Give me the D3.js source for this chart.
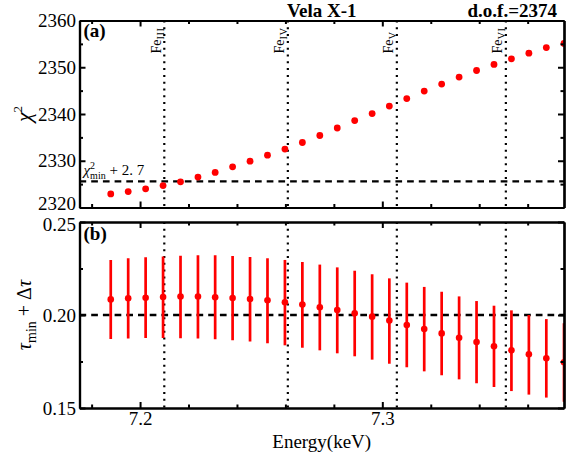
<!DOCTYPE html>
<html><head><meta charset="utf-8">
<script src="https://cdn.jsdelivr.net/npm/d3@7"></script>
<style>
body{margin:0;background:#fff}
svg text{font-family:"Liberation Serif","Times New Roman",serif;fill:#000}
</style>
</head><body><svg id="c" width="575" height="460"></svg>
<script>
// ---- data ----
const energy=[7.1879,7.1951,7.2023,7.2095,7.2167,7.2239,7.2310,7.2382,7.2454,7.2526,7.2598,7.2670,7.2742,7.2814,7.2886,7.2958,7.3029,7.3101,7.3173,7.3245,7.3317,7.3389,7.3461,7.3533,7.3605,7.3677,7.3750];
const chi2=[2322.9,2323.4,2324.0,2324.7,2325.5,2326.5,2327.5,2328.7,2329.9,2331.2,2332.5,2333.9,2335.4,2337.0,2338.6,2340.1,2341.7,2343.3,2344.9,2346.4,2347.9,2349.3,2350.6,2351.8,2353.0,2354.2,2355.1];
const tau=[0.2084,0.2090,0.2093,0.2097,0.2099,0.2099,0.2095,0.2091,0.2086,0.2079,0.2068,0.2056,0.2041,0.2027,0.2009,0.1991,0.1970,0.1946,0.1925,0.1901,0.1878,0.1855,0.1832,0.1810,0.1789,0.1767,0.1746];
const tauHi=[0.2296,0.2305,0.2310,0.2315,0.2319,0.2321,0.2321,0.2317,0.2312,0.2305,0.2296,0.2285,0.2271,0.2256,0.2238,0.2219,0.2197,0.2174,0.2151,0.2125,0.2100,0.2075,0.2050,0.2025,0.2000,0.1978,0.1955];
const tauLo=[0.1871,0.1873,0.1876,0.1876,0.1875,0.1873,0.1869,0.1864,0.1857,0.1848,0.1837,0.1824,0.1810,0.1794,0.1778,0.1760,0.1738,0.1719,0.1697,0.1676,0.1654,0.1633,0.1613,0.1591,0.1572,0.1556,0.1534];
const feIons=["III","IV","V","VI"];
const feEnergy=[7.210,7.261,7.306,7.351];
const xMajor=[7.2,7.3];
const xMinor=[7.18,7.22,7.24,7.26,7.28,7.32,7.34,7.36];
const yTopMajor=[2320,2330,2340,2350,2360];
const yTopMinor=[2325,2335,2345,2355];
const yBotMajor=[0.15,0.20,0.25];
const yBotMinor=[0.175,0.225];
const deltaChi=2.7;
const tauRef=0.20;
const title="Vela X-1";
const dofText="d.o.f.=2374";

// ---- layout ----
const L=79.5,R=564,T1=20.5,B1=207.5,T2=222,B2=408;
const svg=d3.select("#c");
const x=d3.scaleLinear().domain([7.175,7.375]).range([L,R]);
const yT=d3.scaleLinear().domain([2320,2360]).range([B1,T1]);
const yB=d3.scaleLinear().domain([0.15,0.25]).range([B2,T2]);

const defs=svg.append("defs");
defs.append("clipPath").attr("id","cp1").append("rect").attr("x",L).attr("y",T1).attr("width",R-L).attr("height",B1-T1);
defs.append("clipPath").attr("id","cp2").append("rect").attr("x",L).attr("y",T2).attr("width",R-L).attr("height",B2-T2);

function panel(y,top,bot,yMaj,yMin,yFmt,cp,showX){
  const g=svg.append("g").attr("clip-path","url(#"+cp+")");
  g.selectAll("line.fe").data(feEnergy).enter().append("line")
    .attr("x1",d=>x(d)).attr("x2",d=>x(d)).attr("y1",top).attr("y2",bot)
    .attr("stroke","#000").attr("stroke-width",2.2).attr("stroke-dasharray","2,4.8");
  const axes=svg.append("g");
  const mk=(gen,tr,vals,size,fmt)=>{
    const a=axes.append("g").attr("transform",tr)
      .call(gen.tickValues(vals).tickSizeInner(-size).tickSizeOuter(0).tickPadding(3.5).tickFormat(fmt));
    a.select(".domain").attr("stroke-width",2.2);
    a.selectAll(".tick line").attr("stroke-width",2);
    a.selectAll("text").style("font-size","19px").attr("fill","#000");
    return a;
  };
  const none=()=>"";
  mk(d3.axisBottom(x),`translate(0,${bot})`,xMajor,6,showX?d3.format(".1f"):none);
  mk(d3.axisBottom(x),`translate(0,${bot})`,xMinor,3.5,none);
  mk(d3.axisTop(x),`translate(0,${top})`,xMajor,6,none);
  mk(d3.axisTop(x),`translate(0,${top})`,xMinor,3.5,none);
  const ya=mk(d3.axisLeft(y),`translate(${L},0)`,yMaj,6,yFmt);
  mk(d3.axisLeft(y),`translate(${L},0)`,yMin,3.5,none);
  mk(d3.axisRight(y),`translate(${R},0)`,yMaj,6,none);
  mk(d3.axisRight(y),`translate(${R},0)`,yMin,3.5,none);
  return {g,ya};
}

// top panel
const p1=panel(yT,T1,B1,yTopMajor,yTopMinor,d3.format("d"),"cp1",false);
const g1=p1.g;
p1.ya.selectAll(".tick").filter(d=>d===2320).select("text").attr("dy","0.1em");
const chiLine=d3.min(chi2)+deltaChi;
g1.append("line").attr("x1",L).attr("x2",R).attr("y1",yT(chiLine)).attr("y2",yT(chiLine))
  .attr("stroke","#000").attr("stroke-width",2.3).attr("stroke-dasharray","6.7,5");
g1.selectAll("circle").data(energy).enter().append("circle")
  .attr("cx",d=>x(d)).attr("cy",(d,i)=>yT(chi2[i])).attr("r",3.4).attr("fill","#ff0000");

// bottom panel
const p2=panel(yB,T2,B2,yBotMajor,yBotMinor,d3.format(".2f"),"cp2",true);
const g2=p2.g;
p2.ya.selectAll(".tick").filter(d=>d===0.25).select("text").attr("dy","0.45em");
g2.append("line").attr("x1",L).attr("x2",R).attr("y1",yB(tauRef)).attr("y2",yB(tauRef))
  .attr("stroke","#000").attr("stroke-width",2.3).attr("stroke-dasharray","6.7,5");
g2.selectAll("line.err").data(energy).enter().append("line")
  .attr("x1",d=>x(d)).attr("x2",d=>x(d)).attr("y1",(d,i)=>yB(tauHi[i])).attr("y2",(d,i)=>yB(tauLo[i]))
  .attr("stroke","#ff0000").attr("stroke-width",2.7);
g2.selectAll("circle").data(energy).enter().append("circle")
  .attr("cx",d=>x(d)).attr("cy",(d,i)=>yB(tau[i])).attr("r",3.3).attr("fill","#ff0000");

// Fe labels
feEnergy.forEach((e,i)=>{
  const t=svg.append("text").attr("transform",`translate(${x(e)-3.5},${T1+33}) rotate(-90)`)
    .style("font-size","14px").attr("fill","#222");
  t.append("tspan").text("Fe");
  t.append("tspan").attr("dy",3).style("font-size","10.5px").style("letter-spacing","0.5px").text(feIons[i]);
});

// chi2 min label
const cl=svg.append("text").attr("x",L+4).attr("y",yT(chiLine)-6).style("font-size","15px").attr("fill","#222");
cl.append("tspan").style("font-style","italic").text("χ");
cl.append("tspan").attr("dy",-6).style("font-size","10px").text("2");
cl.append("tspan").attr("dx",-5).attr("dy",10).style("font-size","10px").text("min");
cl.append("tspan").attr("dy",-4).text(" + 2. 7");

// panel tags
svg.append("text").attr("x",L+4).attr("y",T1+16.5).style("font-size","19px").style("font-weight","bold").text("(a)");
svg.append("text").attr("x",L+4).attr("y",T2+18).style("font-size","19px").style("font-weight","bold").text("(b)");

// titles
svg.append("text").attr("x",(L+R)/2).attr("y",16.5).attr("text-anchor","middle")
  .style("font-size","19px").style("font-weight","bold").text(title);
svg.append("text").attr("x",557).attr("y",16.5).attr("text-anchor","end")
  .style("font-size","19px").style("font-weight","bold").text(dofText);

// y labels
const yl1=svg.append("text").attr("transform",`translate(31,${(T1+B1)/2}) rotate(-90)`).attr("text-anchor","middle").style("font-size","22px");
yl1.append("tspan").style("font-style","italic").text("χ");
yl1.append("tspan").attr("dy",-9).style("font-size","13px").text("2");

const yl2=svg.append("text").attr("transform",`translate(31,${(T2+B2)/2}) rotate(-90)`).attr("text-anchor","middle").style("font-size","20px");
yl2.append("tspan").style("font-style","italic").text("τ");
yl2.append("tspan").attr("dy",5).style("font-size","14px").text("min");
yl2.append("tspan").attr("dy",-5).text(" + Δ");
yl2.append("tspan").style("font-style","italic").text("τ");

// x label
svg.append("text").attr("x",(L+R)/2).attr("y",448).attr("text-anchor","middle").style("font-size","19px").text("Energy(keV)");
</script>
</body></html>
